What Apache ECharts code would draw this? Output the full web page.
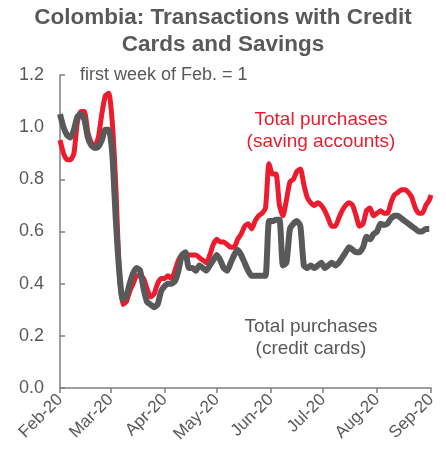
<!DOCTYPE html>
<html>
<head>
<meta charset="utf-8">
<script src="https://cdn.jsdelivr.net/npm/echarts@6/dist/echarts.min.js"></script>
<style>
  html, body { margin: 0; padding: 0; background: #fff; }
  #chart { width: 446px; height: 473px; }
</style>
</head>
<body>
<div id="chart"></div>
<script>
// every second day, first week of Feb. = 1
var dates = [
  '2020-02-01','2020-02-03','2020-02-05','2020-02-07','2020-02-09','2020-02-11','2020-02-13','2020-02-15',
  '2020-02-17','2020-02-19','2020-02-21','2020-02-23','2020-02-25','2020-02-27','2020-02-29',
  '2020-03-02','2020-03-04','2020-03-06','2020-03-08','2020-03-10','2020-03-12','2020-03-14','2020-03-16',
  '2020-03-18','2020-03-20','2020-03-22','2020-03-24','2020-03-26','2020-03-28','2020-03-30',
  '2020-04-01','2020-04-03','2020-04-05','2020-04-07','2020-04-09','2020-04-11','2020-04-13','2020-04-15',
  '2020-04-17','2020-04-19','2020-04-21','2020-04-23','2020-04-25','2020-04-27','2020-04-29',
  '2020-05-01','2020-05-03','2020-05-05','2020-05-07','2020-05-09','2020-05-11','2020-05-13','2020-05-15',
  '2020-05-17','2020-05-19','2020-05-21','2020-05-23','2020-05-25','2020-05-27','2020-05-29','2020-05-31',
  '2020-06-02','2020-06-04','2020-06-06','2020-06-08','2020-06-10','2020-06-12','2020-06-14','2020-06-16',
  '2020-06-18','2020-06-20','2020-06-22','2020-06-24','2020-06-26','2020-06-28','2020-06-30',
  '2020-07-02','2020-07-04','2020-07-06','2020-07-08','2020-07-10','2020-07-12','2020-07-14','2020-07-16',
  '2020-07-18','2020-07-20','2020-07-22','2020-07-24','2020-07-26','2020-07-28','2020-07-30',
  '2020-08-01','2020-08-03','2020-08-05','2020-08-07','2020-08-09','2020-08-11','2020-08-13','2020-08-15',
  '2020-08-17','2020-08-19','2020-08-21','2020-08-23','2020-08-25','2020-08-27','2020-08-29','2020-08-31',
  '2020-09-01'
];

var savings = [
  0.95,0.90,0.875,0.875,0.90,1.02,1.06,1.06,0.98,0.94,0.93,0.96,1.05,1.12,1.13,
  1.02,0.78,0.45,0.32,0.33,0.37,0.40,0.43,0.43,0.42,0.38,0.35,0.36,0.40,0.42,
  0.42,0.43,0.42,0.45,0.49,0.51,0.51,0.51,0.51,0.51,0.50,0.49,0.48,0.51,0.55,
  0.57,0.56,0.56,0.55,0.54,0.54,0.57,0.59,0.62,0.63,0.61,0.64,0.66,0.67,0.69,0.86,
  0.82,0.82,0.70,0.66,0.72,0.79,0.80,0.83,0.84,0.78,0.73,0.71,0.70,0.71,0.70,
  0.68,0.65,0.62,0.62,0.65,0.68,0.70,0.71,0.70,0.66,0.62,0.63,0.68,0.69,0.66,
  0.67,0.68,0.67,0.67,0.71,0.74,0.75,0.76,0.76,0.75,0.73,0.69,0.67,0.67,0.70,0.72,
  0.74
];

var credit = [
  1.05,1.00,0.97,0.96,0.99,1.04,1.05,1.03,0.96,0.93,0.92,0.925,0.95,0.99,0.99,
  0.90,0.65,0.45,0.34,0.35,0.40,0.44,0.46,0.45,0.38,0.33,0.32,0.31,0.32,0.37,
  0.39,0.40,0.40,0.41,0.45,0.51,0.52,0.46,0.46,0.45,0.47,0.46,0.45,0.47,0.49,
  0.51,0.49,0.46,0.45,0.48,0.51,0.53,0.51,0.48,0.45,0.43,0.43,0.43,0.43,0.43,0.64,
  0.64,0.645,0.645,0.47,0.48,0.61,0.63,0.64,0.62,0.47,0.46,0.47,0.46,0.47,0.48,
  0.46,0.47,0.48,0.47,0.48,0.50,0.52,0.54,0.53,0.52,0.52,0.54,0.58,0.57,0.59,
  0.60,0.63,0.625,0.63,0.65,0.66,0.66,0.65,0.64,0.63,0.62,0.61,0.60,0.60,0.61,0.61,
  null
];

var monthStarts = ['2020-02-01','2020-03-01','2020-04-01','2020-05-01','2020-06-01','2020-07-01','2020-08-01','2020-09-01'];
var monthLabels = ['Feb-20','Mar-20','Apr-20','May-20','Jun-20','Jul-20','Aug-20','Sep-20'];

var RED = '#ec1c2e';
var GREY = '#595959';
var FONT = '"Liberation Sans", Arial, sans-serif';

function toTime(s) {
  var p = s.split('-');
  return new Date(+p[0], +p[1] - 1, +p[2]).getTime();
}

var tickTimes = monthStarts.map(toTime);

function pairs(vals) {
  var out = [];
  for (var i = 0; i < dates.length; i++) {
    out.push([toTime(dates[i]), vals[i] == null ? '-' : vals[i]]);
  }
  return out;
}

var chart = echarts.init(document.getElementById('chart'));

var option = {
  animation: false,
  backgroundColor: '#fff',
  title: {
    text: 'Colombia: Transactions with Credit\nCards and Savings',
    left: 'center',
    top: 2,
    padding: [2, 0, 2, 4],
    textStyle: {
      fontFamily: FONT,
      fontSize: 22.5,
      fontWeight: 'bold',
      color: GREY,
      lineHeight: 27
    }
  },
  grid: {
    left: 60,
    right: 15,
    top: 75,
    bottom: 85
  },
  xAxis: {
    type: 'value',
    min: tickTimes[0],
    max: tickTimes[tickTimes.length - 1],
    splitLine: { show: false },
    axisLine: { lineStyle: { color: '#7f7f7f', width: 1.5 } },
    axisTick: {
      show: true,
      customValues: tickTimes,
      length: 5,
      lineStyle: { color: '#7f7f7f', width: 1.5 }
    },
    axisLabel: {
      customValues: tickTimes,
      rotate: 45,
      margin: 9,
      fontFamily: FONT,
      fontSize: 17,
      color: GREY,
      formatter: function (v) {
        var i = tickTimes.indexOf(v);
        return i >= 0 ? monthLabels[i] : '';
      }
    }
  },
  yAxis: {
    type: 'value',
    min: 0,
    max: 1.2,
    interval: 0.2,
    splitLine: { show: false },
    axisLine: { show: true, lineStyle: { color: '#7f7f7f', width: 1.5 } },
    axisTick: {
      show: true,
      inside: true,
      length: 5,
      lineStyle: { color: '#7f7f7f', width: 1.5 }
    },
    axisLabel: {
      margin: 16,
      fontFamily: FONT,
      fontSize: 18,
      color: GREY,
      formatter: function (v) { return v.toFixed(1); }
    }
  },
  series: [
    {
      name: 'Total purchases (saving accounts)',
      type: 'line',
      data: pairs(savings),
      showSymbol: false,
      smooth: 0.2,
      lineStyle: { color: RED, width: 5 },
      z: 2
    },
    {
      name: 'Total purchases (credit cards)',
      type: 'line',
      data: pairs(credit),
      showSymbol: false,
      smooth: 0.2,
      lineStyle: { color: GREY, width: 6 },
      z: 3
    }
  ],
  graphic: [
    {
      type: 'text',
      left: 80,
      top: 66,
      style: { text: 'first week of Feb. = 1', font: '18px ' + FONT, fill: GREY }
    },
    {
      type: 'text',
      x: 321,
      y: 109,
      style: {
        text: 'Total purchases\n(saving accounts)',
        font: '19px ' + FONT,
        fill: RED,
        align: 'center',
        lineHeight: 22
      }
    },
    {
      type: 'text',
      x: 311,
      y: 316,
      style: {
        text: 'Total purchases\n(credit cards)',
        font: '19px ' + FONT,
        fill: GREY,
        align: 'center',
        lineHeight: 22
      }
    }
  ]
};

chart.setOption(option);
</script>
</body>
</html>
